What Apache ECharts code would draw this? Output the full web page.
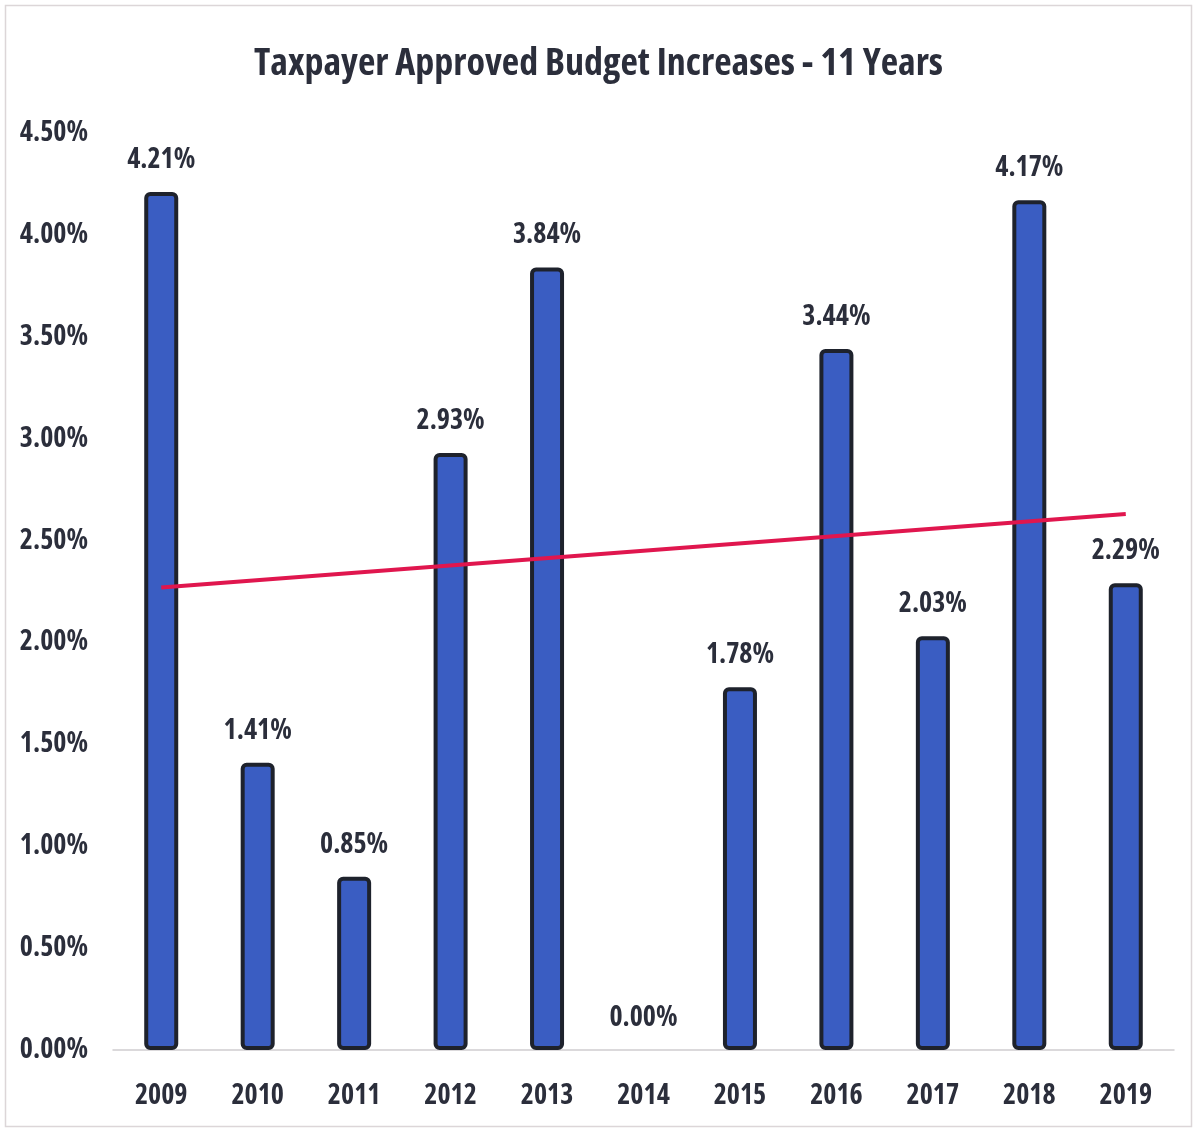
<!DOCTYPE html>
<html>
<head>
<meta charset="utf-8">
<script src="https://cdn.jsdelivr.net/npm/echarts@6/dist/echarts.min.js"></script>
<style>
  html, body { margin: 0; padding: 0; background: #fff; }
  #chart { width: 1197px; height: 1131px; }
</style>
</head>
<body>
<div id="chart"></div>
<script>
const years = ['2009', '2010', '2011', '2012', '2013', '2014', '2015', '2016', '2017', '2018', '2019'];
const increases = [4.21, 1.41, 0.85, 2.93, 3.84, 0.00, 1.78, 3.44, 2.03, 4.17, 2.29];
// trend line: value at first year and at last year
const trendEnds = [2.27, 2.63];

const font = '"Open Sans", sans-serif';
const weight = 'bold condensed'; // Open Sans has a width axis, gives the narrow look
const textColor = '#2b2e3b';

const trendData = years.map((y, i) => {
    if (i === 0) return trendEnds[0];
    if (i === years.length - 1) return trendEnds[1];
    return null;
});

const myChart = echarts.init(document.getElementById('chart'));

const option = {
    animation: false,
    backgroundColor: '#fff',
    title: {
        text: 'Taxpayer Approved Budget Increases - 11 Years',
        left: 'center',
        top: 40,
        textStyle: {
            fontFamily: font,
            fontSize: 38,
            fontWeight: weight,
            color: textColor,
        },
    },
    graphic: [
        {
            type: 'rect',
            shape: { x: 5.5, y: 5.5, width: 1186, height: 1121 },
            style: { fill: 'none', stroke: '#dcd6d8', lineWidth: 1.5 },
            silent: true,
        },
    ],
    grid: {
        left: 113,
        right: 23,
        top: 133,
        bottom: 1131 - 1050,
    },
    xAxis: {
        type: 'category',
        data: years,
        axisLine: { lineStyle: { color: '#d0cdd0', width: 1.5 } },
        axisTick: { show: false },
        axisLabel: {
            color: textColor,
            fontFamily: font,
            fontSize: 28,
            fontWeight: weight,
            margin: 32,
        },
    },
    yAxis: {
        type: 'value',
        min: 0,
        max: 4.5,
        interval: 0.5,
        splitLine: { show: false },
        axisLine: { show: false },
        axisTick: { show: false },
        axisLabel: {
            color: textColor,
            fontFamily: font,
            fontSize: 28,
            fontWeight: weight,
            margin: 25,
            formatter: (v) => v.toFixed(2) + '%',
        },
    },
    series: [
        {
            type: 'bar',
            data: increases.map((v) => (v === 0 ? { value: v, itemStyle: { borderWidth: 0 } } : v)),
            barWidth: 34,
            itemStyle: {
                color: '#3a5dc2',
                borderColor: '#1e222c',
                borderWidth: 4,
                borderRadius: 4,
            },
            label: {
                show: true,
                position: 'top',
                distance: 18,
                color: textColor,
                fontFamily: font,
                fontSize: 28,
                fontWeight: weight,
                formatter: (p) => p.value.toFixed(2) + '%',
            },
            z: 2,
        },
        {
            type: 'line',
            data: trendData,
            connectNulls: true,
            showSymbol: false,
            lineStyle: { color: '#e0164e', width: 4 },
            z: 3,
        },
    ],
};

myChart.setOption(option);
</script>
</body>
</html>
